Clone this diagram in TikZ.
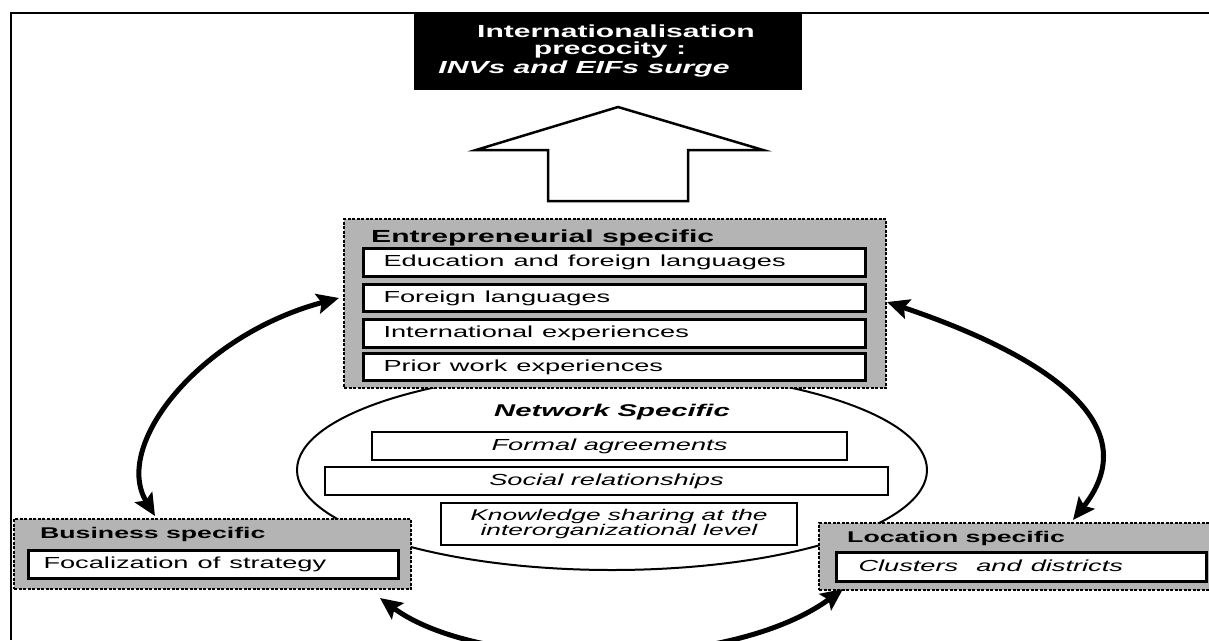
\documentclass[tikz,border=0pt]{standalone}
\usepackage{fontspec}
\setmainfont{Liberation Sans}
\usetikzlibrary{arrows.meta,shapes.geometric}
\definecolor{boxgrey}{RGB}{180,180,180}
\newcommand{\wx}[1]{\scalebox{1.7}[1]{#1}}
\newcommand{\hx}[1]{\scalebox{1.72}[1]{#1}}
\begin{document}
\begin{tikzpicture}[x=1pt,y=-1pt,
  greybox/.style={fill=boxgrey, draw=black, line width=2pt, dash pattern=on 3pt off 1.5pt, anchor=north west, inner sep=0pt},
  hdr/.style={inner sep=0pt, anchor=base west, font=\fontsize{17.5}{20}\selectfont\bfseries},
  subhdr/.style={inner sep=0pt, anchor=base west, font=\fontsize{15.5}{18}\selectfont\bfseries},
  item/.style={draw=black, fill=white, line width=3pt, anchor=north west, inner ysep=0pt, align=left, text height=12pt, text depth=4pt, font=\fontsize{16}{19}\selectfont},
  nbox/.style={draw=black, fill=white, line width=2.2pt, inner sep=0pt, align=center, font=\fontsize{16}{19}\selectfont\itshape},
  toptext/.style={inner sep=0pt, anchor=base, text=white, font=\fontsize{17.5}{20}\selectfont\bfseries},
  bigarrow/.style={line width=5pt, {Stealth[length=22pt,width=20pt,inset=4pt]}-{Stealth[length=22pt,width=20pt,inset=4pt]}}
]
\useasboundingbox (0,0) rectangle (1209,640);
\fill[white] (0,0) rectangle (1209,640);
% outer frame
\draw[line width=2pt] (1209,13) -- (11,13) -- (11,640);
% top black box
\node[fill=black, minimum width=388pt, minimum height=77pt, anchor=north west, inner sep=0pt] (top) at (414,13) {};
\node[toptext] (t1) at (616,37) {\hx{Internationalisation}};
\node[toptext] (t2) at (610,54) {\hx{precocity :}};
\node[toptext] (t3) at (584,73) {\hx{\itshape INVs and EIFs surge}};
% up arrow
\draw[line width=2.5pt, fill=white, line join=miter] (618,107) -- (763,150) -- (688,150) -- (688,201) -- (548,201) -- (548,150) -- (476,150) -- cycle;
% network ellipse
\node[draw=black, fill=white, line width=2pt, ellipse, minimum width=630pt, minimum height=200pt, inner sep=0pt] (net) at (612,470) {};
\node[inner sep=0pt, anchor=base, font=\fontsize{17}{20}\selectfont\bfseries\itshape] (neth) at (612,416) {\hx{Network Specific}};
\node[nbox, minimum width=475pt, minimum height=28pt] (n1) at (609.5,446) {\wx{Formal agreements}};
\node[nbox, minimum width=563pt, minimum height=28pt] (n2) at (606.5,481) {\wx{Social relationships}};
\node[nbox, minimum width=356pt, minimum height=42pt, font=\fontsize{15.5}{15}\selectfont\itshape] (n3) at (619,524) {\wx{Knowledge sharing at the}\\\wx{interorganizational level}};
% entrepreneurial box
\node[greybox, minimum width=542pt, minimum height=169pt] (ent) at (343,218) {};
\node[hdr] (enth) at (371,242) {\hx{Entrepreneurial specific}};
\node[item, inner xsep=20pt, text width=462pt, minimum height=28pt] (e1) at (362,247) {\wx{Education and foreign languages}};
\node[item, inner xsep=20pt, text width=462pt, minimum height=27pt] (e2) at (362,283) {\wx{Foreign languages}};
\node[item, inner xsep=20pt, text width=462pt, minimum height=28pt] (e3) at (362,318) {\wx{International experiences}};
\node[item, inner xsep=20pt, text width=462pt, minimum height=27pt] (e4) at (362,352) {\wx{Prior work experiences}};
% business box
\node[greybox, minimum width=397pt, minimum height=70pt] (bus) at (13,518) {};
\node[subhdr] (bush) at (40,538) {\hx{Business specific}};
\node[item, inner xsep=15pt, text width=340pt, minimum height=28pt] (b1) at (27,549) {\wx{Focalization of strategy}};
% location box
\node[greybox, minimum width=400pt, minimum height=67pt] (loc) at (818,522) {};
\node[subhdr] (loch) at (847,542) {\hx{Location specific}};
\node[item, inner xsep=22pt, text width=326pt, minimum height=29pt] (l1) at (835,551) {\wx{\itshape Clusters\ \ and districts}};
% curved double arrows
\coordinate (al1) at (155,516);
\coordinate (al2) at (339,298);
\coordinate (ar1) at (887,302);
\coordinate (ar2) at (1073,520);
\coordinate (ab1) at (380,598);
\coordinate (ab2) at (843,589);
\draw[bigarrow] (al1) .. controls (112,445) and (200,335) .. (al2);
\draw[bigarrow] (ar1) .. controls (1000,340) and (1160,410) .. (ar2);
\draw[bigarrow] (ab1) .. controls (480,672) and (730,672) .. (ab2);
\end{tikzpicture}
\end{document}
